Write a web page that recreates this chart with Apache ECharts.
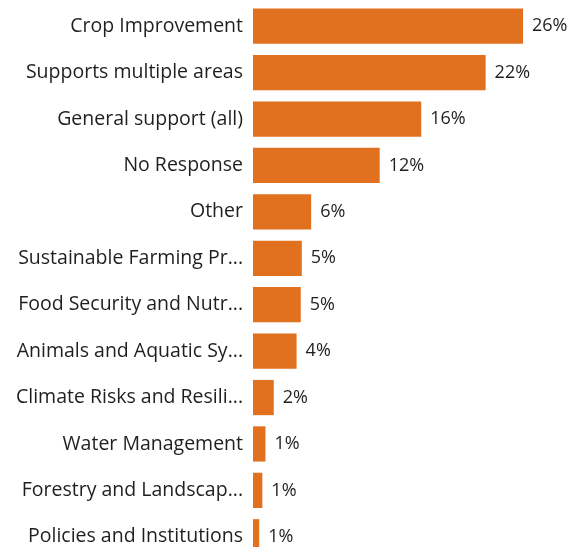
<!DOCTYPE html>
<html>
<head>
<meta charset="utf-8">
<script src="https://cdn.jsdelivr.net/npm/echarts@6/dist/echarts.min.js"></script>
<style>
  html, body { margin: 0; padding: 0; background: #fff; overflow: hidden; }
  #chart { width: 571px; height: 570px; }
</style>
</head>
<body>
<div id="chart"></div>
<script>
// categories as shown (long ones are cut off in the original)
var categories = [
  'Crop Improvement',
  'Supports multiple areas',
  'General support (all)',
  'No Response',
  'Other',
  'Sustainable Farming Pr...',
  'Food Security and Nutr...',
  'Animals and Aquatic Sy...',
  'Climate Risks and Resili...',
  'Water Management',
  'Forestry and Landscap...',
  'Policies and Institutions'
];
// share of responses, in percent (labels show rounded value)
var shares = [26.0, 22.4, 16.2, 12.2, 5.6, 4.7, 4.6, 4.2, 2.0, 1.2, 0.9, 0.6];

var chart = echarts.init(document.getElementById('chart'));

var option = {
  animation: false,
  grid: {
    left: 253,
    top: 3,
    width: 270,
    height: 557
  },
  xAxis: {
    type: 'value',
    min: 0,
    max: 26,
    show: false
  },
  yAxis: {
    type: 'category',
    inverse: true,
    data: categories,
    axisLine: { show: false },
    axisTick: { show: false },
    axisLabel: {
      margin: 10,
      color: '#201f1e',
      fontSize: 19.5,
      fontFamily: 'Open Sans'
    }
  },
  series: [{
    type: 'bar',
    data: shares,
    barCategoryGap: '24%',
    itemStyle: { color: '#E2711F' },
    label: {
      show: true,
      position: 'right',
      distance: 9,
      color: '#201f1e',
      fontSize: 18,
      fontFamily: 'Open Sans',
      formatter: function (p) { return Math.round(p.value) + '%'; }
    }
  }]
};

chart.setOption(option);
</script>
</body>
</html>
